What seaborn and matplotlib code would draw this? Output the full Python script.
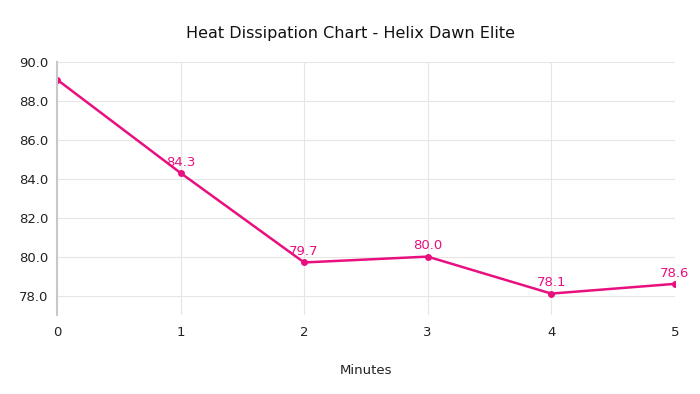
import pandas as pd
import seaborn as sns
from matplotlib import pyplot as plt

# data
minutes = [0, 1, 2, 3, 4, 5]
temps = [89.1, 84.3, 79.7, 80.0, 78.1, 78.6]
y_ticks = [78.0, 80.0, 82.0, 84.0, 86.0, 88.0, 90.0]

df = pd.DataFrame({'Minutes': minutes, 'Temp': temps})
color = '#e8107f'

sns.set_theme(style='white')
plt.rcParams['font.family'] = ['DejaVu Sans']

fig = plt.figure(figsize=(7, 3.94), dpi=100)
ax = fig.add_axes([0.0814, 0.2005, 0.8826, 0.6421])

sns.lineplot(data=df, x='Minutes', y='Temp', ax=ax, color=color,
             linewidth=1.8, marker='o', markersize=5, markeredgewidth=0)

# value labels (first one is clipped at the top in the original)
for x, y in zip(minutes[1:], temps[1:]):
    ax.annotate(f'{y:.1f}', (x, y), xytext=(0, 3), textcoords='offset points',
                ha='center', va='bottom', color=color, fontsize=9.5)

ax.set_xlim(0, 5)
ax.set_ylim(77.0, 90.0)
ax.set_xticks(minutes)
ax.set_yticks(y_ticks)
ax.set_yticklabels([f'{v:.1f}' for v in y_ticks])
ax.grid(True, color='#e6e6e6', linewidth=0.8)
ax.set_axisbelow(True)

for s in ['top', 'right', 'bottom']:
    ax.spines[s].set_visible(False)
ax.spines['left'].set_color('#c8c8c8')
ax.spines['left'].set_linewidth(1.5)

ax.tick_params(axis='both', length=0, labelsize=9.5, colors='#222222')
ax.tick_params(axis='x', pad=8)
ax.tick_params(axis='y', pad=6)
ax.set_ylabel('')
ax.set_xlabel('Minutes', fontsize=9.5, labelpad=18, color='#222222')
fig.suptitle('Heat Dissipation Chart - Helix Dawn Elite', y=0.935, fontsize=11.5, color='#111111')

plt.savefig('out.png', dpi=100)
